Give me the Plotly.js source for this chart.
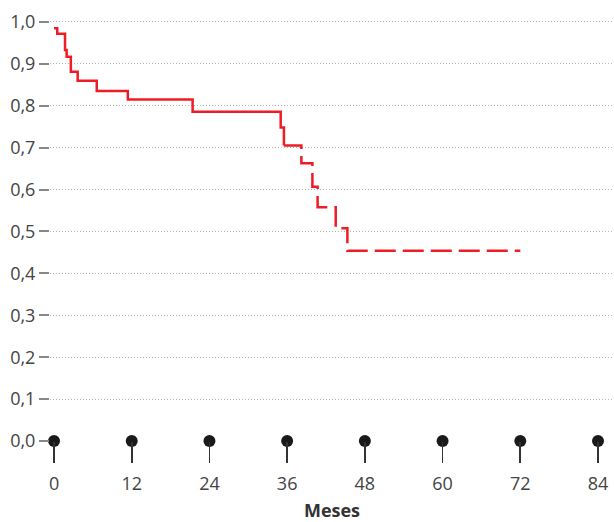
<!DOCTYPE html>
<html>
<head>
<meta charset="utf-8">
<script src="https://cdn.plot.ly/plotly-3.0.1.min.js"></script>
<style>html,body{margin:0;padding:0;background:#fff;}#chart{width:614px;height:522px;}</style>
</head>
<body>
<div id="chart"></div>
<script>
// Kaplan-Meier survival curve
var solidMonths = [0, 0.5, 1.7, 1.95, 2.6, 3.65, 6.6, 11.4, 21.4, 35.0, 35.5];
var solidSurv   = [0.985, 0.972, 0.933, 0.917, 0.881, 0.860, 0.835, 0.815, 0.786, 0.748, 0.705];
var dashMonths  = [35.5, 38.2, 39.9, 40.7, 43.5, 45.3, 72];
var dashSurv    = [0.705, 0.663, 0.607, 0.558, 0.508, 0.454, 0.454];
var tickMonths  = [0, 12, 24, 36, 48, 60, 72, 84];
var tickZero    = [0, 0, 0, 0, 0, 0, 0, 0];
var yTicks      = [0, 0.1, 0.2, 0.3, 0.4, 0.5, 0.6, 0.7, 0.8, 0.9, 1.0];

var red = '#ee1c25';
var traces = [
  {x: solidMonths, y: solidSurv, type: 'scatter', mode: 'lines',
   line: {shape: 'hv', color: red, width: 2.5}, hoverinfo: 'skip'},
  {x: dashMonths, y: dashSurv, type: 'scatter', mode: 'lines',
   line: {shape: 'hv', color: red, width: 2.5, dash: '21px,7px'}, hoverinfo: 'skip'},
  {x: tickMonths, y: tickZero, type: 'scatter', mode: 'markers', cliponaxis: false,
   marker: {color: '#1a1a1a', size: 12}, hoverinfo: 'skip'}
];

var layout = {
  width: 614, height: 522,
  margin: {l: 50, r: 0, t: 10, b: 81},
  paper_bgcolor: '#fff', plot_bgcolor: '#fff',
  showlegend: false,
  separators: ',.',
  font: {family: 'Open Sans, sans-serif', size: 18, color: '#444'},
  xaxis: {
    range: [-0.62, 86.47],
    tickvals: tickMonths,
    ticktext: tickMonths.map(String),
    ticks: 'outside', ticklen: 21, tickwidth: 1.7, tickcolor: '#333',
    ticklabelstandoff: 5,
    showgrid: false, zeroline: false, showline: false,
    tickfont: {size: 18, color: '#444'},
    title: {text: '<b>Meses</b>', font: {size: 18, color: '#333'}, standoff: 16}
  },
  yaxis: {
    range: [0, 1.0286],
    tickvals: yTicks,
    tickformat: '.1f',
    ticks: 'outside', ticklen: 10, tickwidth: 2, tickcolor: '#888',
    showgrid: true, gridcolor: '#b5b5b5', gridwidth: 1, griddash: '1px,2px',
    zeroline: false, showline: false,
    tickfont: {size: 18, color: '#444'}
  }
};

Plotly.newPlot('chart', traces, layout, {displayModeBar: false, staticPlot: true});
</script>
</body>
</html>
